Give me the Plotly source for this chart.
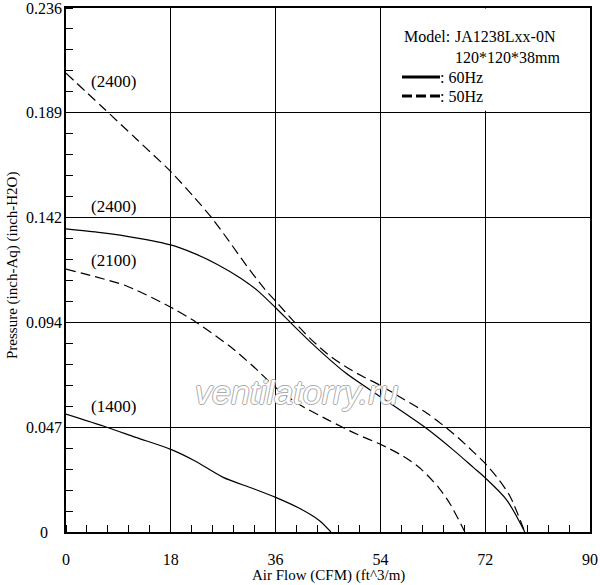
import plotly.graph_objects as go

# P-Q curves
flow_60_2400 = [0, 6, 12, 18, 22, 26, 30, 33, 36, 39, 42.5, 48, 54, 58, 62, 66.5, 70, 72, 75.7, 78.8]
pres_60_2400 = [0.1365, 0.1348, 0.1325, 0.1293, 0.1255, 0.1205, 0.1143, 0.1085, 0.1010, 0.0932, 0.0843,
                0.0717, 0.0609, 0.0538, 0.0465, 0.0370, 0.0290, 0.0244, 0.0144, 0]

flow_50_2400 = [0, 6, 12, 18, 22, 25, 28, 31, 34, 36, 39, 42, 45, 48, 51, 54, 58, 62, 66.5, 70, 72, 74.5,
                76.3, 78.8]
pres_50_2400 = [0.2066, 0.1920, 0.1772, 0.1623, 0.1508, 0.1416, 0.1310, 0.1200, 0.1098, 0.1040, 0.0952,
                0.0870, 0.0800, 0.0745, 0.0700, 0.0660, 0.0598, 0.0535, 0.0444, 0.0360, 0.0309, 0.0230,
                0.0159, 0]

flow_50_2100 = [0, 5, 10.4, 18, 22.4, 28.2, 32, 36.2, 40, 45, 50, 54, 58, 61, 64, 66, 68.5]
pres_50_2100 = [0.1184, 0.1150, 0.1108, 0.1012, 0.0944, 0.0835, 0.0750, 0.0647, 0.0575, 0.0505, 0.0440,
                0.0395, 0.0340, 0.0283, 0.0200, 0.0125, 0]

flow_60_1400 = [0, 7, 12, 18, 22, 27, 32, 36, 40, 43.5, 45.5]
pres_60_1400 = [0.0531, 0.0472, 0.0426, 0.0372, 0.0322, 0.0246, 0.0197, 0.0156, 0.0108, 0.0052, 0]

x_ticks = [0, 18, 36, 54, 72, 90]
y_ticks = [0, 0.0472, 0.0944, 0.1416, 0.1888, 0.236]
y_labels = ['0', '0.047', '0.094', '0.142', '0.189', '0.236']

# speed labels next to the curves
speed_labels = ['(2400)', '(2400)', '(2100)', '(1400)']
speed_label_y = [0.2027, 0.1464, 0.1221, 0.0563]

FONT = 'Liberation Serif'
dash = '10px,5px'

fig = go.Figure()
curves = [
    (flow_60_2400, pres_60_2400, 'solid'),
    (flow_50_2400, pres_50_2400, dash),
    (flow_50_2100, pres_50_2100, dash),
    (flow_60_1400, pres_60_1400, 'solid'),
]
for fx, py, d in curves:
    fig.add_trace(go.Scatter(
        x=fx, y=py, mode='lines',
        line=dict(color='black', width=1.2, dash=d, shape='spline', smoothing=0.8),
        showlegend=False, hoverinfo='skip'
    ))

fig.update_layout(
    width=600, height=585,
    margin=dict(l=66, r=10, t=8, b=53),
    paper_bgcolor='white', plot_bgcolor='white',
    font=dict(family=FONT, size=16, color='black'),
    showlegend=False,
)

fig.update_xaxes(
    range=[0, 90], tickmode='array', tickvals=x_ticks, automargin=False,
    showgrid=True, gridcolor='black', gridwidth=1,
    showline=True, linecolor='black', linewidth=1.5, mirror=True,
    ticks='', ticklabelstandoff=12, zeroline=False,
    minor=dict(tickmode='array', tickvals=[i * 3.6 for i in range(26)],
               ticks='inside', ticklen=7, tickcolor='black', tickwidth=1, showgrid=False),
)
fig.update_yaxes(
    range=[0, 0.236], tickmode='array', tickvals=y_ticks, showticklabels=False, automargin=False,
    showgrid=True, gridcolor='black', gridwidth=1,
    showline=True, linecolor='black', linewidth=1.5, mirror=True,
    ticks='', zeroline=False,
    minor=dict(tickmode='array', tickvals=[i * 0.00944 for i in range(26)],
               ticks='inside', ticklen=7, tickcolor='black', tickwidth=1, showgrid=False),
)

# y tick labels, centred like the original
for v, t in zip(y_ticks, y_labels):
    fig.add_annotation(x=0, xref='paper', y=v, yref='y', text=t, showarrow=False,
                       xanchor='center', yanchor='middle', xshift=-22,
                       font=dict(family=FONT, size=16))

# axis titles
fig.add_annotation(x=0.5, xref='paper', y=0, yref='paper', yshift=-43, text='Air Flow (CFM) (ft^3/m)',
                   showarrow=False, xanchor='center', yanchor='middle', font=dict(family=FONT, size=15))
fig.add_annotation(x=0, xref='paper', y=0.5, yref='paper', xshift=-54, yshift=4,
                   text='Pressure (inch-Aq) (inch-H2O)',
                   showarrow=False, textangle=-90, xanchor='center', yanchor='middle',
                   font=dict(family=FONT, size=15))

for t, yv in zip(speed_labels, speed_label_y):
    fig.add_annotation(x=8.1, y=yv, text=t, showarrow=False, xanchor='center', yanchor='middle',
                       font=dict(family=FONT, size=17))

# legend box hides the grid in the top right corner
fig.add_shape(type='rect', x0=54.2, x1=89.9, y0=0.1897, y1=0.2358, layer='between',
              fillcolor='white', line=dict(width=0))

fig.add_annotation(x=0.6412, xref='paper', y=0.9447, yref='paper', text='Model:', showarrow=False,
                   xanchor='left', yanchor='middle', font=dict(family=FONT, size=16))
fig.add_annotation(x=0.7385, xref='paper', y=0.9447, yref='paper', text='JA1238Lxx-0N', showarrow=False,
                   xanchor='left', yanchor='middle', font=dict(family=FONT, size=16))
fig.add_annotation(x=0.7385, xref='paper', y=0.9055, yref='paper', text='120*120*38mm', showarrow=False,
                   xanchor='left', yanchor='middle', font=dict(family=FONT, size=16))
fig.add_shape(type='line', xref='paper', yref='paper', x0=0.6412, x1=0.7137, y0=0.8683, y1=0.8683,
              line=dict(color='black', width=3))
fig.add_shape(type='line', xref='paper', yref='paper', x0=0.6412, x1=0.7137, y0=0.832, y1=0.832,
              line=dict(color='black', width=3, dash='10px,4px'))
fig.add_annotation(x=0.7137, xref='paper', y=0.8683, yref='paper', text=': 60Hz', showarrow=False,
                   xanchor='left', yanchor='middle', xshift=-2, font=dict(family=FONT, size=16))
fig.add_annotation(x=0.7137, xref='paper', y=0.832, yref='paper', text=': 50Hz', showarrow=False,
                   xanchor='left', yanchor='middle', xshift=-2, font=dict(family=FONT, size=16))

# watermark
fig.add_annotation(x=0.441, xref='paper', y=0.2669, yref='paper', text='ventilatorry.ru', showarrow=False,
                   xanchor='center', yanchor='middle',
                   font=dict(family='Liberation Sans', size=34, color='white', style='italic',
                             shadow='1px 0 0 #aaa, -1px 0 0 #aaa, 0 1px 0 #aaa, 0 -1px 0 #aaa'))

# drop the browser's default page margin so the figure fills the window
fig.write_html('out.html', config={'displayModeBar': False},
               post_script="document.body.style.margin = '0';")
